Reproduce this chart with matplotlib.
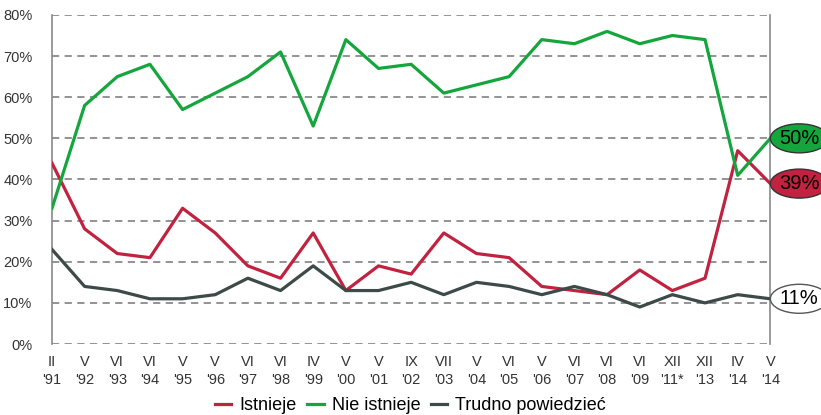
import matplotlib
matplotlib.use('Agg')
import matplotlib.pyplot as plt
from matplotlib.patches import Ellipse
from matplotlib.transforms import ScaledTranslation

plt.rcParams['font.family'] = ['Liberation Sans', 'DejaVu Sans']

labels = ["II\n'91", "V\n'92", "VI\n'93", "VI\n'94", "V\n'95", "V\n'96", "VI\n'97",
          "VI\n'98", "IV\n'99", "V\n'00", "V\n'01", "IX\n'02", "VII\n'03", "V\n'04",
          "VI\n'05", "V\n'06", "VI\n'07", "VI\n'08", "VI\n'09", "XII\n'11*", "XII\n'13",
          "IV\n'14", "V\n'14"]
istnieje = [44, 28, 22, 21, 33, 27, 19, 16, 27, 13, 19, 17, 27, 22, 21, 14, 13, 12, 18, 13, 16, 47, 39]
nie_istnieje = [33, 58, 65, 68, 57, 61, 65, 71, 53, 74, 67, 68, 61, 63, 65, 74, 73, 76, 73, 75, 74, 41, 50]
trudno = [23, 14, 13, 11, 11, 12, 16, 13, 19, 13, 13, 15, 12, 15, 14, 12, 14, 12, 9, 12, 10, 12, 11]

red = '#c0223f'
green = '#14a63c'
dark = '#3d4a47'

fig = plt.figure(figsize=(8.21, 4.15), dpi=100)
ax = fig.add_axes([0.0633, 0.171, 0.875, 0.793])

x = range(len(labels))
ax.plot(x, istnieje, color=red, lw=2.3, label='Istnieje', zorder=3)
ax.plot(x, nie_istnieje, color=green, lw=2.3, label='Nie istnieje', zorder=3)
ax.plot(x, trudno, color=dark, lw=2.3, label='Trudno powiedzieć', zorder=3)

ax.set_xlim(0, len(labels) - 1)
ax.set_ylim(0, 80)
ax.set_yticks(range(0, 81, 10))
ax.set_yticklabels([f'{v}%' for v in range(0, 81, 10)])
ax.set_xticks(list(x))
ax.set_xticklabels(labels, linespacing=1.35)
ax.tick_params(axis='both', length=0, labelsize=10.5, colors='#333333')
ax.tick_params(axis='y', pad=14)
ax.tick_params(axis='x', pad=8)

ax.yaxis.grid(True, ls=(0, (4, 3)), color='#8a8a8a', lw=1.3)
ax.set_axisbelow(True)
for s in ['top', 'bottom']:
    ax.spines[s].set_visible(False)
for s in ['left', 'right']:
    ax.spines[s].set_color('#8a8a8a')
    ax.spines[s].set_linewidth(1.2)

# end-value bubbles, sized in inches and anchored at the last data point
last = len(labels) - 1
end_labels = [(nie_istnieje[last], green, '#333333'), (istnieje[last], red, '#333333'),
              (trudno[last], 'white', '#555555')]
for val, fc, ec in end_labels:
    tr = fig.dpi_scale_trans + ScaledTranslation(last, val, ax.transData)
    ax.add_patch(Ellipse((0.29, 0), 0.58, 0.29, transform=tr, fc=fc, ec=ec, lw=1.0,
                         clip_on=False, zorder=5))
    ax.annotate(f'{val}%', xy=(last, val), xytext=(29, 0), textcoords='offset pixels',
                ha='center', va='center', fontsize=14.5, color='black',
                annotation_clip=False, zorder=6)

fig.legend(loc='center', bbox_to_anchor=(0.5, 0.022), ncol=3, frameon=False, fontsize=13,
           handlelength=0.9, handletextpad=0.45, columnspacing=0.6)

fig.savefig('out.png', dpi=100)
